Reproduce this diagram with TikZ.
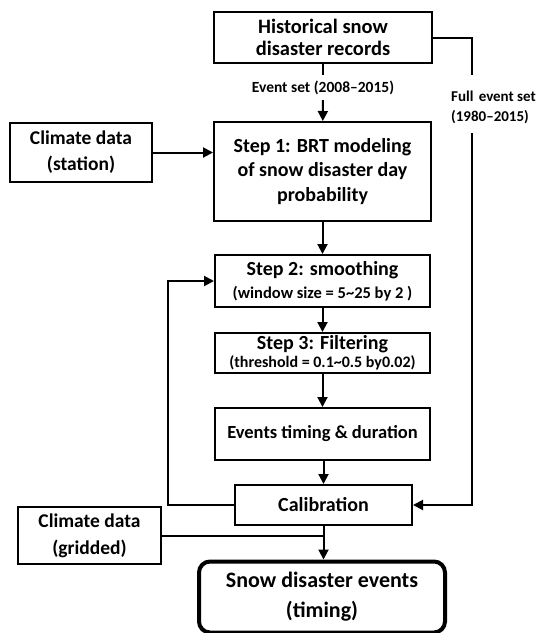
\documentclass[tikz,border=0pt]{standalone}
\usepackage{fontspec}
\setmainfont{Carlito}
\usetikzlibrary{arrows.meta,positioning}

\begin{document}
\begin{tikzpicture}[x=1pt,y=-1pt,
    box/.style={draw, line width=2pt, align=center, inner sep=0pt, font=\bfseries},
    arr/.style={line width=2pt, -{Triangle[length=10pt,width=10pt]}},
    link/.style={line width=2pt}]
\useasboundingbox (0,0) rectangle (541,633);

% input boxes
\node[box, minimum width=218pt, minimum height=51pt, font=\bfseries\fontsize{20.5}{22}\selectfont] (hist) at (323,37.5) {Historical snow\\disaster records};
\node[box, minimum width=142pt, minimum height=59pt, font=\bfseries\fontsize{19.5}{26}\selectfont] (station) at (81,152.5) {Climate data\\(station)};
\node[box, minimum width=143pt, minimum height=57pt, font=\bfseries\fontsize{19.5}{27}\selectfont] (gridded) at (89.5,535.5) {Climate data\\(gridded)};

% steps
\node[box, minimum width=217pt, minimum height=99pt, font=\bfseries\fontsize{20}{24.5}\selectfont] (step1) at (322.5,171.5) {Step 1: BRT modeling\\of snow disaster day\\probability};
\node[box, minimum width=215pt, minimum height=52pt] (step2) at (322.5,281)
    {{\fontsize{20}{20}\selectfont Step 2: smoothing}\\[6pt]{\fontsize{16.5}{14}\selectfont (window size = 5\textasciitilde25 by 2 )}};
\node[box, minimum width=215pt, minimum height=40pt] (step3) at (322.5,353)
    {{\fontsize{20}{20}\selectfont Step 3: Filtering}\\[2pt]{\fontsize{16}{14}\selectfont (threshold = 0.1\textasciitilde0.5 by0.02)}};
\node[box, minimum width=215pt, minimum height=52pt, font=\bfseries\fontsize{18.5}{18}\selectfont] (events) at (322.5,434) {Events timing \& duration};
\node[box, minimum width=177pt, minimum height=40pt, font=\bfseries\fontsize{20}{20}\selectfont] (calib) at (323.5,505) {Calibration};

% output
\node[box, line width=4pt, rounded corners=11pt, minimum width=246pt, minimum height=71pt, font=\bfseries\fontsize{22}{30}\selectfont] (final) at (322,597) {Snow disaster events\\(timing)};

% labels on the links
\node[font=\bfseries\fontsize{15.5}{15}\selectfont, minimum height=25pt, inner sep=0pt] (evset) at (323,87.5) {Event set (2008--2015)};
\node[font=\bfseries\fontsize{15}{20}\selectfont, align=left, anchor=west, inner sep=0pt] (fullset) at (451,107) {Full\hspace{0.35em}event set\\(1980--2015)};
\coordinate (fulltop) at (472,75);
\coordinate (fullbot) at (472,133);

% connectors
\draw[link] (hist) -- (evset);
\draw[arr] (evset) -- (step1);
\draw[arr] (station.east) -- (station.east -| step1.west);
\draw[arr] (step1) -- (step2);
\draw[arr] (step2) -- (step3);
\draw[arr] (step3) -- (events);
\draw[arr] (events.south) -- (events.south -| calib.north) -- (calib.north);
\draw[arr] (calib.west) -- ++(-66,0) |- (step2.west);
\draw[link] (hist.east) -| (fulltop);
\draw[arr] (fullbot) |- (calib.east);
\draw[link] (gridded.east) -- (gridded.east -| calib.south);
\draw[arr] (calib.south) -- (calib.south |- final.north);
\end{tikzpicture}
\end{document}
